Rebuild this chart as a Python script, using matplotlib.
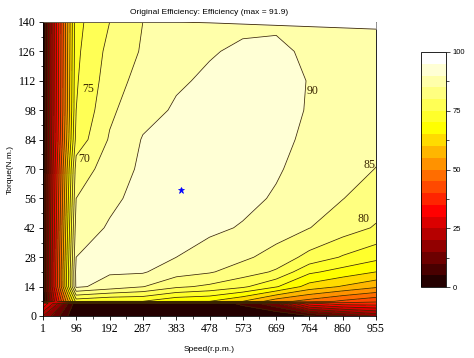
import numpy as np
import matplotlib
matplotlib.use("Agg")
import matplotlib.pyplot as plt
from matplotlib.colors import ListedColormap
from matplotlib.ticker import FixedLocator, MultipleLocator

# ---------------- data ----------------
speed = [1, 96, 192, 287, 383, 478, 573, 669, 764, 860, 955]
torque = [0, 6, 7, 14, 21, 28, 42, 56, 70, 84, 98, 112, 126, 140]

# efficiency (%) for each speed column, torque rows from 0 up to 140
eff_s1 = [20, 35, 0, 0, 0, 0, 0, 0, 0, 0, 0, 0, 0, 0]
eff_s96 = [0, 2, 72, 91, 91.5, 90, 87.5, 85, 82.5, 77, 75, 74.5, 74, 73.5]
eff_s192 = [0, 2, 70, 88, 90.5, 91.5, 90.5, 89, 87, 85.5, 84, 82.5, 81.5, 80]
eff_s287 = [0, 2, 70, 85.2, 90.5, 91.3, 91.6, 91.5, 91, 90.3, 88.5, 87, 85.5, 85]
eff_s383 = [0, 2, 66, 81, 87, 90, 91.5, 91.9, 91.7, 91.2, 90.5, 89.5, 88, 87]
eff_s478 = [0, 2, 65, 79, 85.5, 88.3, 90.8, 91.5, 91.6, 91.5, 91.2, 90.6, 89.7, 88.5]
eff_s573 = [0, 6, 60, 76, 82.5, 86, 89.7, 91, 91.3, 91.3, 91.2, 91, 90.6, 89.2]
eff_s669 = [0, 14, 52, 70.5, 79.3, 83, 87.5, 89.6, 90.4, 90.8, 91, 90.9, 90.6, 89.5]
eff_s764 = [4, 34, 48, 63, 71, 78.5, 85.1, 87.3, 88.6, 89.4, 89.8, 89.9, 89.5, 88.8]
eff_s860 = [10, 38, 44, 59.5, 68, 74.5, 82.5, 85.1, 86.8, 87.8, 88.4, 88.6, 88.5, 88]
eff_s955 = [16, 38, 41, 56, 65, 71.5, 79.5, 82.7, 84.9, 86.3, 87.2, 87.6, 87.6, 87.2]

# maximum torque envelope (white area above it)
max_torque = [140, 140, 140, 140, 140, 139.6, 139.0, 138.4, 137.8, 137.2, 136.6]

# location of the maximum efficiency point
peak_speed = 395
peak_torque = 60
peak_eff = 91.9

levels = list(range(0, 101, 5))
label_levels = [70, 75, 80, 85, 90]
label_speed = [118, 130, 920, 935, 772]
label_torque = [75, 108, 46, 72, 107]

torque_ticks = [0, 14, 28, 42, 56, 70, 84, 98, 112, 126, 140]
cbar_ticks = [0, 25, 50, 75, 100]

# ---------------- colours (hot colormap, 20 bands) ----------------
n = len(levels) - 1
n1 = int(3 * n / 8)
n2 = n1
n3 = n - n1 - n2
r = [i / n1 for i in range(1, n1 + 1)] + [1.0] * (n - n1)
g = [0.0] * n1 + [i / n2 for i in range(1, n2 + 1)] + [1.0] * n3
b = [0.0] * (n1 + n2) + [i / n3 for i in range(1, n3 + 1)]
cmap = ListedColormap(list(zip(r, g, b)))

Z = np.array([eff_s1, eff_s96, eff_s192, eff_s287, eff_s383, eff_s478,
              eff_s573, eff_s669, eff_s764, eff_s860, eff_s955]).T
S, T = np.meshgrid(speed, torque)

# ---------------- figure ----------------
fig = plt.figure(figsize=(4.74, 3.58), dpi=100)
ax = fig.add_axes([43 / 474, 1 - 316 / 358, 333 / 474, 294 / 358])

line_col = "#3a2600"
cf = ax.contourf(S, T, Z, levels=levels, cmap=cmap, vmin=0, vmax=100)
cs = ax.contour(S, T, Z, levels=levels[1:-1], colors=line_col, linewidths=0.55)

ax.fill_between(speed, max_torque, 141, color="white", zorder=3, lw=0)
ax.plot(speed, max_torque, color=line_col, lw=0.6, zorder=3)

for lv, xs, ys in zip(label_levels, label_speed, label_torque):
    ax.text(xs, ys, str(lv), fontsize=8.5, family="Liberation Serif",
            color=line_col, ha="center", va="center", zorder=4, clip_on=True)

ax.plot([peak_speed], [peak_torque], marker="*", color="#0000ff",
        markersize=5, markeredgewidth=0.5, zorder=5)

ax.set_xlim(speed[0], speed[-1])
ax.set_ylim(0, 140)
ax.xaxis.set_major_locator(FixedLocator(speed))
ax.set_xticklabels([str(s) for s in speed])
mids = [(speed[i] + speed[i + 1]) / 2 for i in range(len(speed) - 1)]
ax.xaxis.set_minor_locator(FixedLocator(mids))
ax.yaxis.set_major_locator(FixedLocator(torque_ticks))
ax.set_yticklabels([str(t) for t in torque_ticks])
ax.yaxis.set_minor_locator(MultipleLocator(7))
ax.tick_params(which="major", direction="out", length=3, width=0.6, pad=2,
               labelsize=8.5)
ax.tick_params(which="minor", direction="out", length=1.8, width=0.5)
for lab in ax.get_xticklabels() + ax.get_yticklabels():
    lab.set_family("Liberation Serif")
for sp in ax.spines.values():
    sp.set_linewidth(0.6)

ax.set_xlabel("Speed(r.p.m.)", fontsize=6, family="Liberation Sans",
              labelpad=8)
ax.set_ylabel("Torque(N.m.)", fontsize=6, family="Liberation Sans",
              labelpad=3)
ax.set_title("Original Efficiency: Efficiency (max = %.1f)" % peak_eff,
             fontsize=6, family="Liberation Sans", pad=6)

# colorbar
cax = fig.add_axes([421 / 474, 1 - 287 / 358, 25 / 474, 235 / 358])
cb = fig.colorbar(cf, cax=cax, ticks=cbar_ticks)
cb.outline.set_linewidth(0.6)
cax.yaxis.set_minor_locator(FixedLocator([12.5, 37.5, 62.5, 87.5]))
cax.tick_params(which="major", length=3, width=0.5, labelsize=5.5, pad=2)
cax.tick_params(which="minor", length=2, width=0.5)
for lab in cax.get_yticklabels():
    lab.set_family("Liberation Sans")

fig.savefig("out.png", dpi=100)
